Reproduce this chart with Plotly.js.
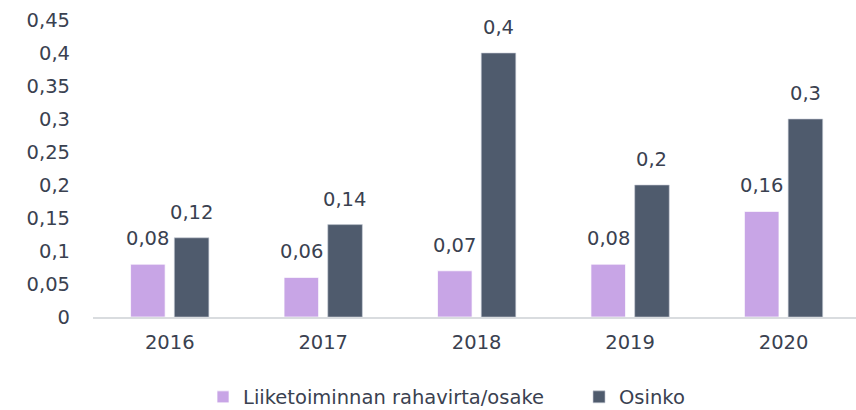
<!DOCTYPE html>
<html>
<head>
<meta charset="utf-8">
<script src="https://cdn.plot.ly/plotly-3.0.1.min.js"></script>
<style>html,body{margin:0;padding:0;background:#fff;}#chart{width:856px;height:410px;}</style>
</head>
<body>
<div id="chart"></div>
<script>
const years = ['2016', '2017', '2018', '2019', '2020'];
const cashflowPerShare = [0.08, 0.06, 0.07, 0.08, 0.16];
const dividend = [0.12, 0.14, 0.4, 0.2, 0.3];
const seriesNames = ['Liiketoiminnan rahavirta/osake', 'Osinko'];
const yTicks = [0, 0.05, 0.1, 0.15, 0.2, 0.25, 0.3, 0.35, 0.4, 0.45];

const FONT = '"DejaVu Sans", sans-serif';
const FS = 19.5;
const TXT = '#3a4150';
const C1 = '#c8a5e6';
const C2 = '#4f5b6d';
const fmt = v => String(v).replace('.', ',');

const traces = [
  {type: 'bar', name: seriesNames[0], x: years, y: cashflowPerShare,
   marker: {color: C1, line: {color: 'rgba(255,255,255,0.7)', width: 1}}, hoverinfo: 'none'},
  {type: 'bar', name: seriesNames[1], x: years, y: dividend,
   marker: {color: C2, line: {color: 'rgba(200,205,215,0.6)', width: 1}}, hoverinfo: 'none'}
];

const offsetPx = 21.8;
const annotations = [];
years.forEach((yr, i) => {
  annotations.push({x: i, y: cashflowPerShare[i], text: fmt(cashflowPerShare[i]), showarrow: false,
    xref: 'x', yref: 'y', xshift: -offsetPx, yanchor: 'bottom', yshift: 12,
    font: {family: FONT, size: FS, color: TXT}});
  annotations.push({x: i, y: dividend[i], text: fmt(dividend[i]), showarrow: false,
    xref: 'x', yref: 'y', xshift: offsetPx, yanchor: 'bottom', yshift: 12,
    font: {family: FONT, size: FS, color: TXT}});
});

const layout = {
  width: 856, height: 410,
  margin: {l: 93, r: 0, t: 20, b: 93, autoexpand: false},
  paper_bgcolor: '#fff', plot_bgcolor: '#fff',
  separators: ', ',
  font: {family: FONT, size: FS, color: TXT},
  barmode: 'group', bargap: 0.43, bargroupgap: 0.21,
  showlegend: true,
  legend: {orientation: 'h', x: 0.1442, xanchor: 'left', y: -0.27, yanchor: 'middle',
    entrywidth: 331, entrywidthmode: 'pixels',
    font: {family: FONT, size: FS, color: TXT}, traceorder: 'normal'},
  xaxis: {type: 'category', range: [-0.5, 4.472], showgrid: false, zeroline: false,
    showline: true, linecolor: '#d9dcdf', linewidth: 1.5, ticks: '', ticklabelstandoff: 7,
    tickfont: {family: FONT, size: FS, color: TXT}, fixedrange: true},
  yaxis: {range: [0, 0.45], tickvals: yTicks, ticktext: yTicks.map(fmt), showgrid: false, zeroline: false,
    showline: false, ticks: '', ticklabelstandoff: 22,
    tickfont: {family: FONT, size: FS, color: TXT}, fixedrange: true},
  annotations: annotations
};

Plotly.newPlot('chart', traces, layout, {staticPlot: true, displayModeBar: false});
</script>
</body>
</html>
